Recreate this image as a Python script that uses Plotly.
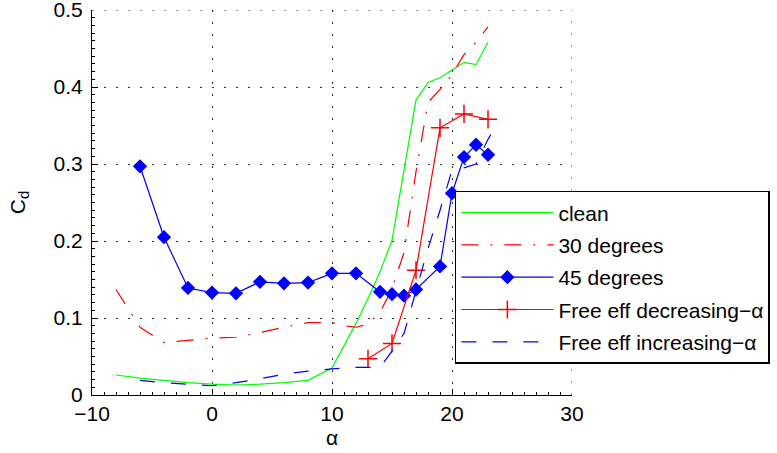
import plotly.graph_objects as go

# ---- data ----
clean_x = [-8, -6, -4, -2, 0, 2, 4, 6, 8, 10, 12, 13, 14, 15, 16, 17, 18, 19, 20, 21, 22, 23]
clean_y = [0.026, 0.022, 0.019, 0.016, 0.014, 0.013, 0.014, 0.016, 0.019, 0.035, 0.093,
           0.125, 0.160, 0.201, 0.292, 0.383, 0.406, 0.412, 0.422, 0.432, 0.429, 0.458]

deg30_x = [-8, -6, -4, -2, 0, 2, 4, 6, 8, 10, 11, 12, 13, 14, 15, 16, 17, 18, 19, 20, 21, 22, 23]
deg30_y = [0.137, 0.088, 0.068, 0.071, 0.074, 0.075, 0.081, 0.088, 0.094, 0.094, 0.090, 0.088,
           0.092, 0.107, 0.138, 0.185, 0.290, 0.380, 0.397, 0.416, 0.442, 0.458, 0.478]

deg45_x = [-6, -4, -2, 0, 2, 4, 6, 8, 10, 12, 14, 15, 16, 17, 19, 20, 21, 22, 23]
deg45_y = [0.297, 0.205, 0.139, 0.133, 0.132, 0.147, 0.145, 0.146, 0.158, 0.158,
           0.134, 0.131, 0.129, 0.137, 0.167, 0.262, 0.309, 0.325, 0.312]

dec_x = [13, 15, 17, 19, 21, 23]
dec_y = [0.047, 0.067, 0.162, 0.347, 0.365, 0.358]

inc_x = [-6, -4, -2, 0, 2, 4, 6, 8, 10, 12, 14, 15, 16, 17, 18, 19, 20, 21, 22, 23, 23.75]
inc_y = [0.019, 0.016, 0.014, 0.012, 0.016, 0.021, 0.027, 0.031, 0.034, 0.036, 0.036,
         0.057, 0.080, 0.135, 0.190, 0.240, 0.292, 0.295, 0.300, 0.332, 0.352]

x_ticks = [-10, 0, 10, 20, 30]
y_ticks = [0, 0.1, 0.2, 0.3, 0.4, 0.5]
y_tick_labels = ["0", "0.1", "0.2", "0.3", "0.4", "0.5"]

x_range = [-10, 30]
y_range = [0, 0.5]

FONT = "Liberation Sans, Arial, Helvetica, sans-serif"
FS = 21
GRID_COLOR = "#333333"
GRID_DASH = "2px,10px"

fig = go.Figure()
fig.add_trace(go.Scatter(x=clean_x, y=clean_y, mode="lines", name="clean",
                         legendgroup="a",
                         line=dict(color="#00ff00", width=1.2)))
fig.add_trace(go.Scatter(x=deg30_x, y=deg30_y, mode="lines", name="30 degrees",
                         legendgroup="b",
                         line=dict(color="#ff0000", width=1.2, dash="17px,12px,2px,12px")))
fig.add_trace(go.Scatter(x=deg45_x, y=deg45_y, mode="lines+markers", name="45 degrees",
                         legendgroup="c",
                         line=dict(color="#0000ff", width=1.2),
                         marker=dict(symbol="diamond", size=11, color="#0000ff")))
fig.add_trace(go.Scatter(x=dec_x, y=dec_y, mode="lines+markers",
                         name="Free eff decreasing\u2212\u03b1",
                         legendgroup="d",
                         line=dict(color="#ff0000", width=1.2),
                         marker=dict(symbol="cross-thin", size=13,
                                     line=dict(color="#ff0000", width=1.5))))
fig.add_trace(go.Scatter(x=inc_x, y=inc_y, mode="lines",
                         name="Free eff increasing\u2212\u03b1",
                         legendgroup="e",
                         line=dict(color="#0000ff", width=1.2, dash="15px,16px")))

axis_common = dict(
    showline=True, linecolor="black", linewidth=1, mirror=False,
    ticks="inside", ticklen=6, tickcolor="black", tickwidth=1,
    showgrid=True, gridcolor=GRID_COLOR, gridwidth=1, griddash=GRID_DASH,
    zeroline=False, ticklabeloverflow="allow", automargin=False,
    tickfont=dict(family=FONT, size=FS, color="black"),
)

fig.update_xaxes(range=x_range, tickvals=x_ticks,
                 minor=dict(dtick=1, tick0=0, ticks="inside", ticklen=3,
                            tickcolor="black", showgrid=False),
                 title=dict(text="\u03b1", font=dict(family=FONT, size=FS), standoff=6),
                 **axis_common)
fig.update_yaxes(range=y_range, tickvals=y_ticks, ticktext=y_tick_labels,
                 ticklabelstandoff=4,
                 minor=dict(dtick=0.01, tick0=0, ticks="inside", ticklen=3,
                            tickcolor="black", showgrid=False),
                 title=dict(text="C<sub>d</sub>", font=dict(family=FONT, size=FS), standoff=22),
                 **axis_common)

# dotted grid lines at the far ends of the axes (top and right), which plotly omits
fig.add_shape(type="line", xref="x", yref="y", x0=x_range[0], x1=x_range[1],
              y0=y_range[1], y1=y_range[1],
              line=dict(color=GRID_COLOR, width=1, dash=GRID_DASH), layer="below")
fig.add_shape(type="line", xref="x", yref="y", x0=x_range[1], x1=x_range[1],
              y0=y_range[0], y1=y_range[1],
              line=dict(color=GRID_COLOR, width=1, dash=GRID_DASH), layer="below")

fig.update_layout(
    width=777, height=453,
    margin=dict(l=92, r=205, t=10, b=58, autoexpand=False),
    plot_bgcolor="white", paper_bgcolor="white",
    font=dict(family=FONT, size=FS, color="black"),
    legend=dict(x=0.756, y=0.530, xanchor="left", yanchor="top",
                bgcolor="white", bordercolor="black", borderwidth=1.5,
                font=dict(family=FONT, size=FS),
                itemwidth=92, traceorder="grouped", tracegroupgap=2),
)

fig.write_html("out.html")
